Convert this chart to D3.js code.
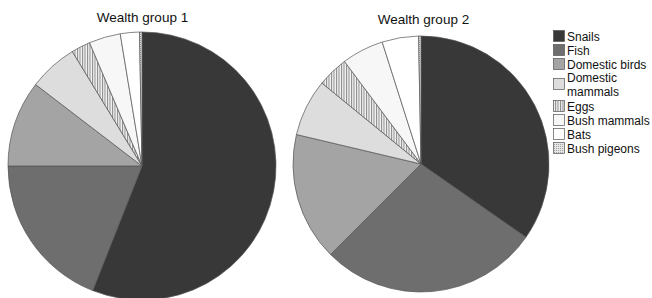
<!DOCTYPE html>
<html><head><meta charset="utf-8">
<script src="https://cdn.jsdelivr.net/npm/d3@7"></script>
<style>body{margin:0;background:#fff;}text{font-family:"Liberation Sans",Arial,sans-serif;}</style>
</head><body>
<svg id="c" width="652" height="298"></svg>
<script>
const categories = ["Snails","Fish","Domestic birds","Domestic mammals","Eggs","Bush mammals","Bats","Bush pigeons"];
const group1 = [56, 19, 10.4, 5.9, 2.3, 3.8, 2.3, 0.3];
const group2 = [34.7, 27.8, 16.2, 7.2, 3.9, 5.3, 4.6, 0.3];
const titles = ["Wealth group 1","Wealth group 2"];
const fills = ["#383838","#6e6e6e","#a4a4a4","#dddddd","url(#hatch)","#f7f7f7","#ffffff","url(#dots)"];

const svg = d3.select("#c");
const defs = svg.append("defs");
const h = defs.append("pattern").attr("id","hatch").attr("patternUnits","userSpaceOnUse").attr("width",2.5).attr("height",4);
h.append("rect").attr("width",2.5).attr("height",4).attr("fill","#f2f2f2");
h.append("rect").attr("width",1).attr("height",4).attr("fill","#8a8a8a");
const d = defs.append("pattern").attr("id","dots").attr("patternUnits","userSpaceOnUse").attr("width",2).attr("height",2);
d.append("rect").attr("width",2).attr("height",2).attr("fill","#e6e6e6");
d.append("rect").attr("width",1).attr("height",1).attr("fill","#a0a0a0");

const pie = d3.pie().sort(null).value(v => v);
const pies = [
  {data: group1, cx: 142, cy: 166, r: 134, tx: 142.5, ty: 22},
  {data: group2, cx: 421, cy: 164, r: 128, tx: 423.5, ty: 24}
];
pies.forEach((p, i) => {
  const arc = d3.arc().innerRadius(0).outerRadius(p.r);
  const g = svg.append("g").attr("transform", `translate(${p.cx},${p.cy})`);
  g.selectAll("path").data(pie(p.data)).join("path")
    .attr("d", arc)
    .attr("fill", (dd, j) => fills[j])
    .attr("stroke", "#555")
    .attr("stroke-width", 0.7);
  svg.append("text").attr("x", p.tx).attr("y", p.ty).attr("text-anchor","middle")
    .attr("font-size", 13.5).attr("fill","#111").text(titles[i]);
});

// legend
const legendRows = [
  {lines:["Snails"], y:30},
  {lines:["Fish"], y:44},
  {lines:["Domestic birds"], y:58},
  {lines:["Domestic","mammals"], y:78},
  {lines:["Eggs"], y:100},
  {lines:["Bush mammals"], y:114},
  {lines:["Bats"], y:128},
  {lines:["Bush pigeons"], y:142}
];
const lg = svg.append("g");
legendRows.forEach((row, j) => {
  lg.append("rect").attr("x", 553.5).attr("y", row.y + 0.5).attr("width", 11).attr("height", 11)
    .attr("fill", fills[j]).attr("stroke", "#555").attr("stroke-width", 0.7);
  const t = lg.append("text").attr("x", 567).attr("font-size", 12).attr("fill","#111");
  if (row.lines.length === 1) {
    t.attr("y", row.y + 10.5).text(row.lines[0]);
  } else {
    t.append("tspan").attr("x",567).attr("y", row.y + 3.5).text(row.lines[0]);
    t.append("tspan").attr("x",567).attr("y", row.y + 17.5).text(row.lines[1]);
  }
});
</script>
</body></html>
